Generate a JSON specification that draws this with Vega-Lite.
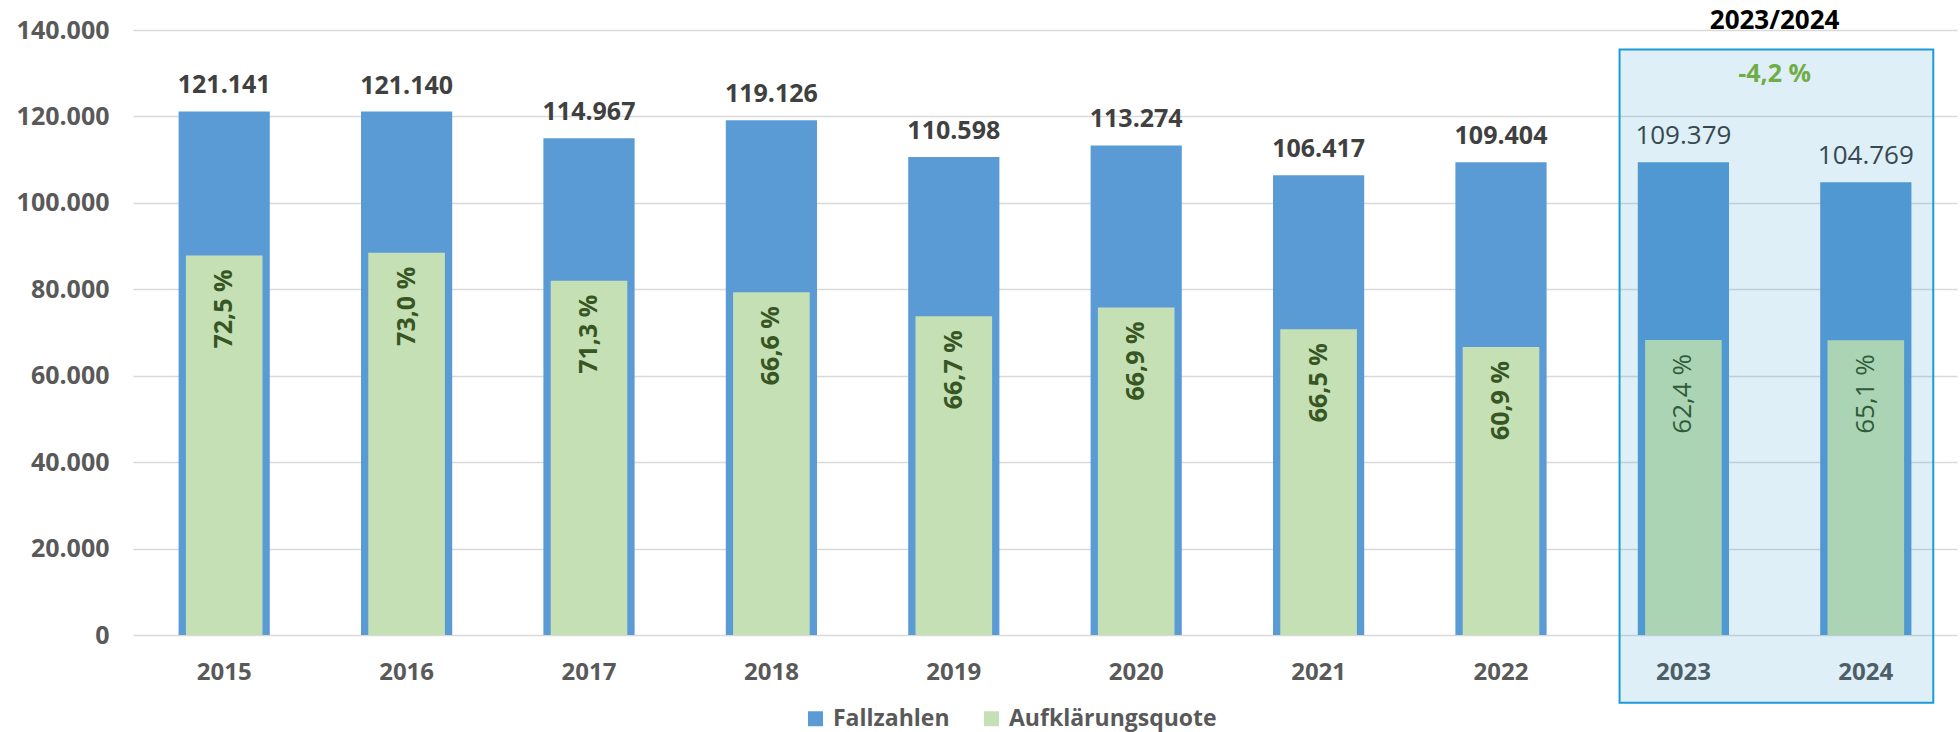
{
  "$schema": "https://vega.github.io/schema/vega-lite/v6.json",
  "width": 1824,
  "height": 605,
  "autosize": {"type": "none"},
  "padding": {"left": 133, "top": 30, "right": 3, "bottom": 97},
  "background": "white",
  "config": {
    "locale": {"number": {"decimal": ",", "thousands": ".", "grouping": [3], "currency": ["", " €"]}},
    "view": {"stroke": null},
    "font": "Open Sans",
    "legend": {
      "orient": "none",
      "legendX": 671,
      "legendY": 677,
      "direction": "horizontal",
      "labelFont": "Open Sans",
      "labelFontSize": 23,
      "labelFontWeight": "bold",
      "labelColor": "#595959",
      "labelLimit": 0,
      "symbolType": "square",
      "symbolSize": 225,
      "symbolStrokeWidth": 0,
      "columnPadding": 30,
      "labelOffset": 6,
      "title": null
    }
  },
  "data": {
    "values": [
      {"year": "2015", "fall": 121141, "aufgeklaert": 87827, "quote": "72,5 %"},
      {"year": "2016", "fall": 121140, "aufgeklaert": 88432, "quote": "73,0 %"},
      {"year": "2017", "fall": 114967, "aufgeklaert": 81971, "quote": "71,3 %"},
      {"year": "2018", "fall": 119126, "aufgeklaert": 79338, "quote": "66,6 %"},
      {"year": "2019", "fall": 110598, "aufgeklaert": 73769, "quote": "66,7 %"},
      {"year": "2020", "fall": 113274, "aufgeklaert": 75780, "quote": "66,9 %"},
      {"year": "2021", "fall": 106417, "aufgeklaert": 70767, "quote": "66,5 %"},
      {"year": "2022", "fall": 109404, "aufgeklaert": 66627, "quote": "60,9 %"},
      {"year": "2023", "fall": 109379, "aufgeklaert": 68253, "quote": "62,4 %"},
      {"year": "2024", "fall": 104769, "aufgeklaert": 68205, "quote": "65,1 %"}
    ]
  },
  "encoding": {
    "x": {
      "field": "year",
      "type": "nominal",
      "sort": null,
      "scale": {"paddingInner": 0, "paddingOuter": 0},
      "axis": {
        "title": null,
        "labelAngle": 0,
        "labelFont": "Open Sans",
        "labelFontSize": 24,
        "labelFontWeight": "bold",
        "labelColor": "#595959",
        "ticks": false,
        "domain": false,
        "labelPadding": 25
      }
    }
  },
  "layer": [
    {
      "mark": {"type": "bar", "width": {"band": 0.5}},
      "encoding": {
        "y": {
          "field": "fall",
          "type": "quantitative",
          "scale": {"domain": [0, 140000], "nice": false, "zero": true},
          "axis": {
            "title": null,
            "values": [0, 20000, 40000, 60000, 80000, 100000, 120000, 140000],
            "format": ",d",
            "labelFont": "Open Sans",
            "labelFontSize": 25,
            "labelFontWeight": "bold",
            "labelColor": "#595959",
            "labelPadding": 24,
            "ticks": false,
            "domain": false,
            "gridColor": "#D9D9D9",
            "gridWidth": 1.5
          }
        },
        "color": {
          "datum": "Fallzahlen",
          "scale": {"domain": ["Fallzahlen", "Aufklärungsquote"], "range": ["#5B9BD5", "#C5E0B4"]}
        }
      }
    },
    {
      "mark": {"type": "bar", "width": {"band": 0.42}},
      "encoding": {
        "y": {"field": "aufgeklaert", "type": "quantitative"},
        "color": {"datum": "Aufklärungsquote"}
      }
    },
    {
      "transform": [{"filter": {"not": {"field": "year", "oneOf": ["2023", "2024"]}}}],
      "mark": {"type": "text", "font": "Open Sans", "fontSize": 25, "fontWeight": "bold", "color": "#404040", "baseline": "alphabetic", "dy": -18},
      "encoding": {
        "y": {"field": "fall", "type": "quantitative"},
        "text": {"field": "fall", "type": "quantitative", "format": ",d"}
      }
    },
    {
      "transform": [{"filter": {"field": "year", "oneOf": ["2023", "2024"]}}],
      "mark": {"type": "text", "font": "Open Sans", "fontSize": 26, "fontWeight": "normal", "color": "#404040", "baseline": "alphabetic", "dy": -18},
      "encoding": {
        "y": {"field": "fall", "type": "quantitative"},
        "text": {"field": "fall", "type": "quantitative", "format": ",d"}
      }
    },
    {
      "transform": [{"filter": {"not": {"field": "year", "oneOf": ["2023", "2024"]}}}],
      "mark": {"type": "text", "font": "Open Sans", "fontSize": 25, "fontWeight": "bold", "color": "#375623", "angle": 270, "align": "right", "baseline": "middle", "dx": -14},
      "encoding": {
        "y": {"field": "aufgeklaert", "type": "quantitative"},
        "text": {"field": "quote", "type": "nominal"}
      }
    },
    {
      "transform": [{"filter": {"field": "year", "oneOf": ["2023", "2024"]}}],
      "mark": {"type": "text", "font": "Open Sans", "fontSize": 26, "fontWeight": "normal", "color": "#375623", "angle": 270, "align": "right", "baseline": "middle", "dx": -14},
      "encoding": {
        "y": {"field": "aufgeklaert", "type": "quantitative"},
        "text": {"field": "quote", "type": "nominal"}
      }
    },
    {
      "data": {"values": [{"span": "2023/2024", "change": "-4,2 %"}]},
      "mark": {"type": "rect", "fill": "#0082C0", "fillOpacity": 0.13, "stroke": "#1E9AD6", "strokeWidth": 2, "strokeOpacity": 1, "clip": false},
      "encoding": {
        "x": {"datum": "2023", "bandPosition": 0.15},
        "x2": {"datum": "2024", "bandPosition": 0.87},
        "y": {"datum": 135500},
        "y2": {"datum": -15700}
      }
    },
    {
      "data": {"values": [{"span": "2023/2024", "change": "-4,2 %"}]},
      "mark": {"type": "text", "font": "Open Sans", "fontSize": 25, "fontWeight": "bold", "color": "#70AD47", "baseline": "middle", "align": "center"},
      "encoding": {
        "x": {"datum": "2024", "bandPosition": 0},
        "y": {"datum": 129800},
        "text": {"field": "change", "type": "nominal"}
      }
    },
    {
      "data": {"values": [{"span": "2023/2024", "change": "-4,2 %"}]},
      "mark": {"type": "text", "font": "Open Sans", "fontSize": 26, "fontWeight": "bold", "color": "#000000", "baseline": "middle", "align": "center"},
      "encoding": {
        "x": {"datum": "2024", "bandPosition": 0},
        "y": {"datum": 142100},
        "text": {"field": "span", "type": "nominal"}
      }
    }
  ]
}
